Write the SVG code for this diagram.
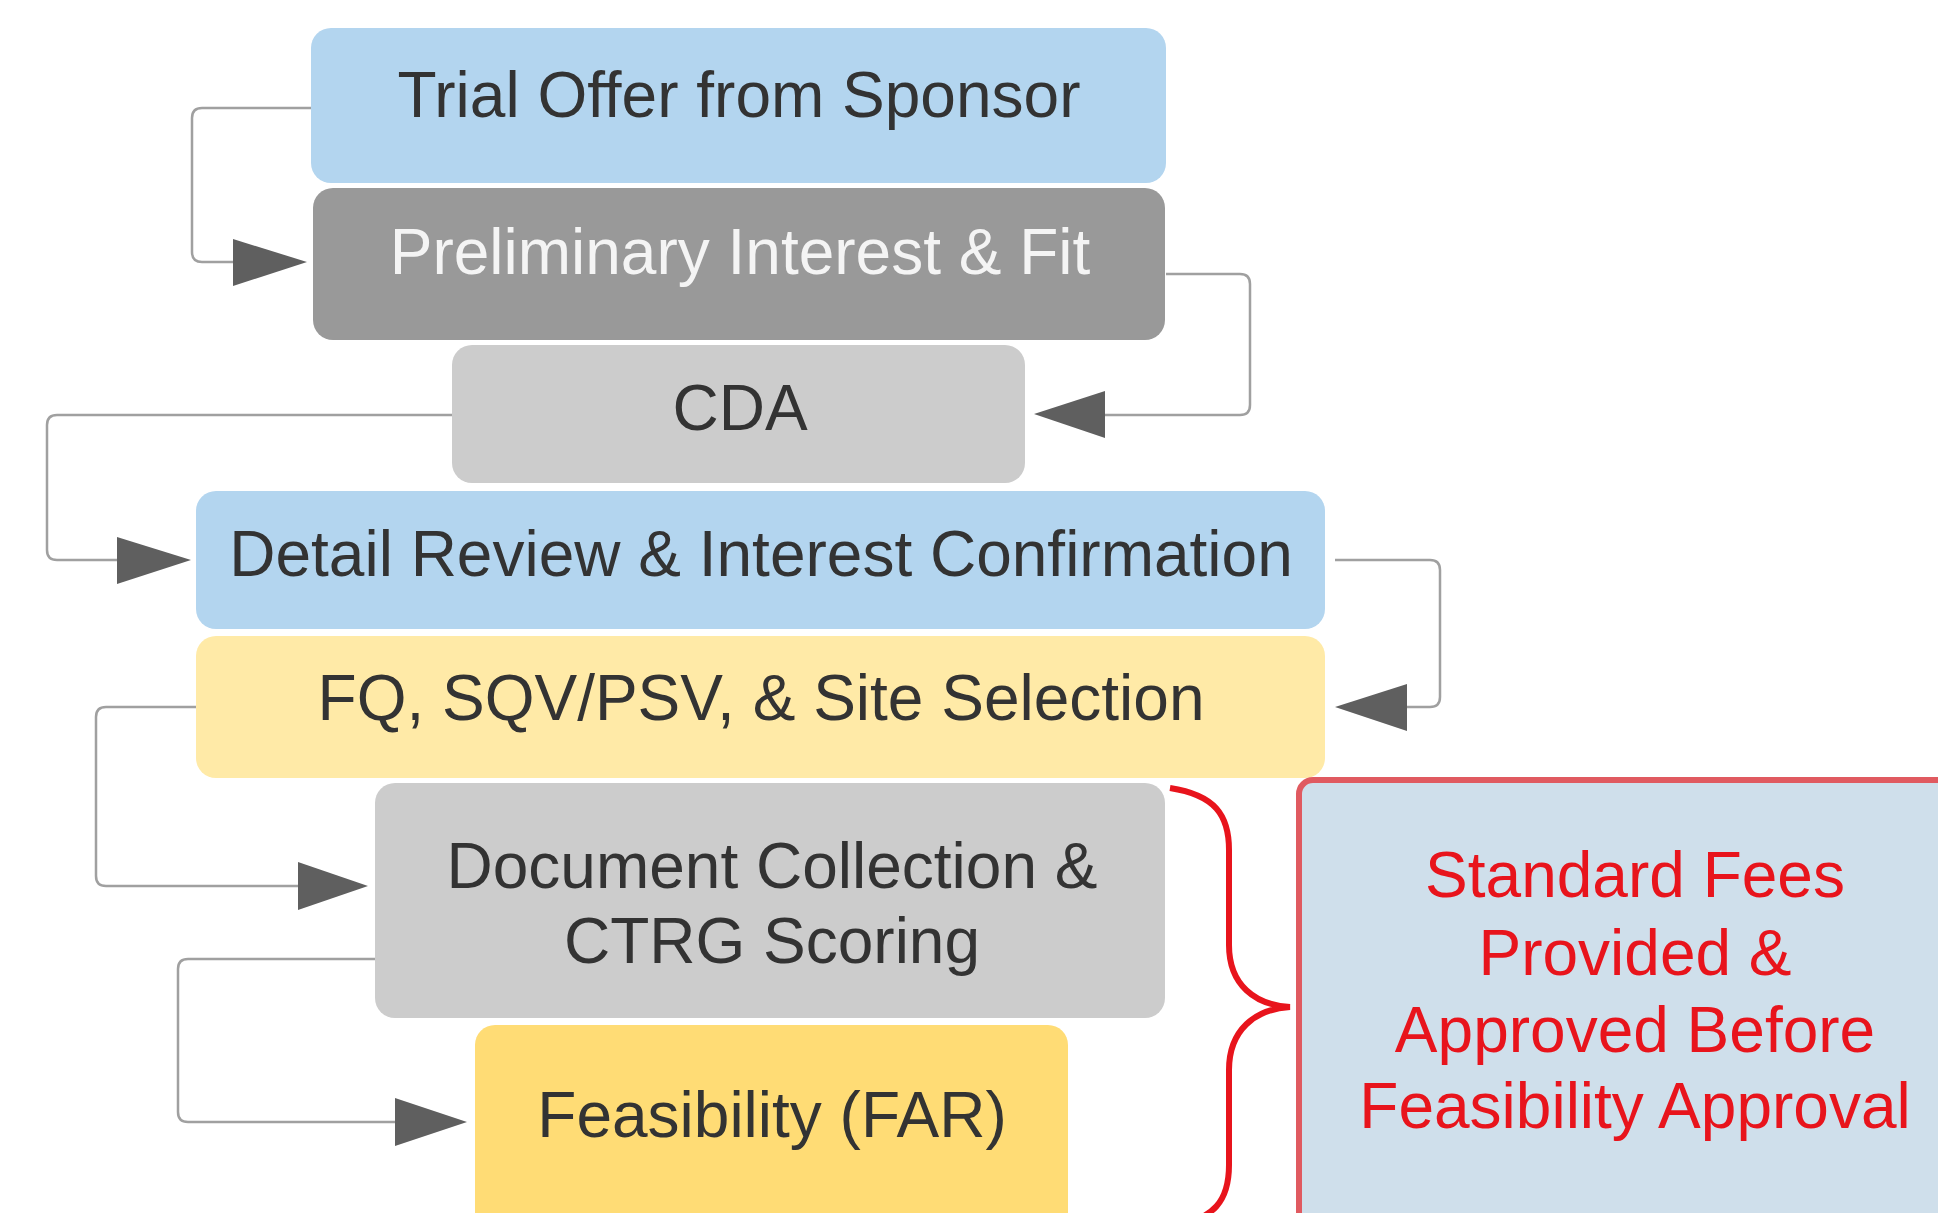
<svg xmlns="http://www.w3.org/2000/svg" width="1938" height="1213" viewBox="0 0 1938 1213">
<defs>
<style>
.t{font-family:"Liberation Sans",Arial,sans-serif;font-size:64px;text-anchor:middle;fill:#333333}
.w{fill:#f4f4f4}
.r{fill:#e8141c}
.c{fill:none;stroke:#a0a0a0;stroke-width:2.5}
.a{fill:#5f5f5f}
</style>
</defs>
<rect width="1938" height="1213" fill="#ffffff"/>
<g id="connectors">
<path class="c" d="M311,108 H202 Q192,108 192,118 V252 Q192,262 202,262 H240"/>
<polygon class="a" points="307,262 233,239 233,286"/>
<path class="c" d="M1166,274 H1240 Q1250,274 1250,284 V405 Q1250,415 1240,415 H1100"/>
<polygon class="a" points="1034,414 1105,391 1105,438"/>
<path class="c" d="M452,415 H57 Q47,415 47,425 V550 Q47,560 57,560 H120"/>
<polygon class="a" points="191,560 117,537 117,584"/>
<path class="c" d="M1335,560 H1430 Q1440,560 1440,570 V697 Q1440,707 1430,707 H1405"/>
<polygon class="a" points="1335,707 1407,684 1407,731"/>
<path class="c" d="M196,707 H106 Q96,707 96,717 V876 Q96,886 106,886 H300"/>
<polygon class="a" points="368,886 298,862 298,910"/>
<path class="c" d="M375,959 H188 Q178,959 178,969 V1112 Q178,1122 188,1122 H400"/>
<polygon class="a" points="467,1122 395,1098 395,1146"/>
</g>
<g id="n1">
<rect x="311" y="28" width="855" height="155" rx="20" fill="#b3d5ef"/>
<text class="t" x="739" y="117">Trial Offer from Sponsor</text>
</g>
<g id="n2">
<rect x="313" y="188" width="852" height="152" rx="20" fill="#999999"/>
<text class="t w" x="740" y="274">Preliminary Interest &amp; Fit</text>
</g>
<g id="n3">
<rect x="452" y="345" width="573" height="138" rx="20" fill="#cccccc"/>
<text class="t" x="740" y="430">CDA</text>
</g>
<g id="n4">
<rect x="196" y="491" width="1129" height="138" rx="20" fill="#b3d5ef"/>
<text class="t" x="761" y="576">Detail Review &amp; Interest Confirmation</text>
</g>
<g id="n5">
<rect x="196" y="636" width="1129" height="142" rx="20" fill="#ffeaa7"/>
<text class="t" x="761" y="720">FQ, SQV/PSV, &amp; Site Selection</text>
</g>
<g id="n6">
<rect x="375" y="783" width="790" height="235" rx="20" fill="#cccccc"/>
<text class="t" x="772" y="888">Document Collection &amp;</text>
<text class="t" x="772" y="963">CTRG Scoring</text>
</g>
<g id="n7">
<rect x="475" y="1025" width="593" height="230" rx="20" fill="#ffdc75"/>
<text class="t" x="772" y="1137">Feasibility (FAR)</text>
</g>
<g id="brace">
<path d="M1170,788 C1215,795 1229,815 1229,850 L1229,945 C1229,985 1255,1005 1290,1007 C1255,1009 1229,1030 1229,1070 L1229,1165 C1229,1200 1215,1220 1170,1226" fill="none" stroke="#e8141c" stroke-width="6"/>
</g>
<g id="note">
<rect x="1299" y="780" width="720" height="500" rx="14" fill="#cfdfeb" stroke="#e05a60" stroke-width="6"/>
<text class="t r" x="1635" y="897">Standard Fees</text>
<text class="t r" x="1635" y="975">Provided &amp;</text>
<text class="t r" x="1635" y="1052">Approved Before</text>
<text class="t r" x="1635" y="1128">Feasibility Approval</text>
</g>
</svg>
